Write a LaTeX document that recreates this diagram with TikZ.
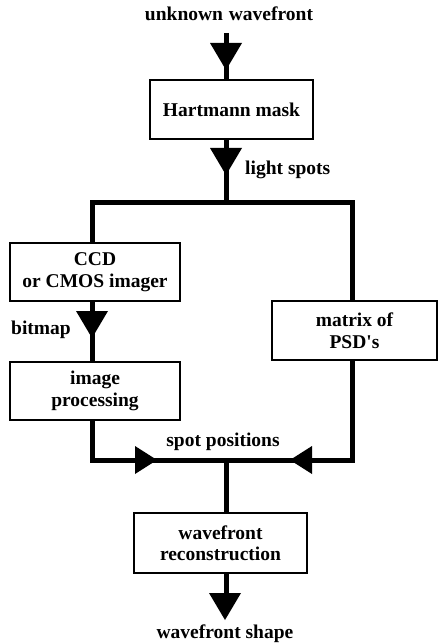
\documentclass[tikz,border=0pt]{standalone}
\usepackage{fontspec}
\setmainfont{Liberation Serif}
\usetikzlibrary{calc}
\begin{document}
\begin{tikzpicture}[x=1pt,y=-1pt,
  lbl/.style={font=\bfseries\fontsize{19.5}{21.5}\selectfont, inner sep=0pt},
  box/.style={draw, line width=1.5pt, inner sep=0pt, align=center,
    font=\bfseries\fontsize{19.5}{21.5}\selectfont},
  flow/.style={line width=5pt},
  tdown/.pic={\fill (0,0) -- (-16,-27) -- (16,-27) -- cycle;},
  tright/.pic={\fill (0,0) -- (-22,-14) -- (-22,14) -- cycle;},
  tleft/.pic={\fill (0,0) -- (22,-14) -- (22,14) -- cycle;}]
\useasboundingbox (0,0) rectangle (441,644);
\node[lbl] (title) at (229,14) {unknown\hspace{0.3em}wavefront};
\coordinate (src) at (226,33);
\node[box, minimum width=163pt, minimum height=59pt] (hart) at (231.5,109.5) {Hartmann mask};
\coordinate (j1) at (226,203);
\coordinate (colL) at (92,0);
\coordinate (colR) at (352,0);
\node[box, minimum width=170pt, minimum height=58pt] (ccd) at (95,272) {CCD\\or CMOS imager};
\node[box, minimum width=165pt, minimum height=59pt] (psd) at (354.5,330.5) {matrix of\\PSD\textquotesingle s};
\node[box, minimum width=170pt, minimum height=58pt] (img) at (95,391) {image\\processing};
\coordinate (j2) at (226,460);
\node[box, minimum width=173pt, minimum height=60pt] (rec) at (220.5,543) {wavefront\\reconstruction};
\coordinate (snk) at (226,605);
\node[lbl] (out) at (225,634) {wavefront shape};
\node[lbl, anchor=west] (ls) at (245,170) {light spots};
\node[lbl, anchor=west] (bm) at (11,330) {bitmap};
\node[lbl] (sp) at (223,442) {spot positions};
% connectors
\draw[flow] (src) -- (src |- hart.north);
\draw[flow] (src |- hart.south) -- (j1);
\draw[flow] (ccd.north -| colL) |- (j1) -| (colR |- psd.north);
\draw[flow] (ccd.south -| colL) -- (img.north -| colL);
\draw[flow] (img.south -| colL) |- (j2) -| (colR |- psd.south);
\draw[flow] (j2) -- (rec.north -| j2);
\draw[flow] (rec.south -| j2) -- (snk);
% arrowheads
\pic at (226,70) {tdown};
\pic at (226,175) {tdown};
\pic at (92,338) {tdown};
\pic at (157,460) {tright};
\pic at (290,460) {tleft};
\pic at (225,620) {tdown};
\end{tikzpicture}
\end{document}
